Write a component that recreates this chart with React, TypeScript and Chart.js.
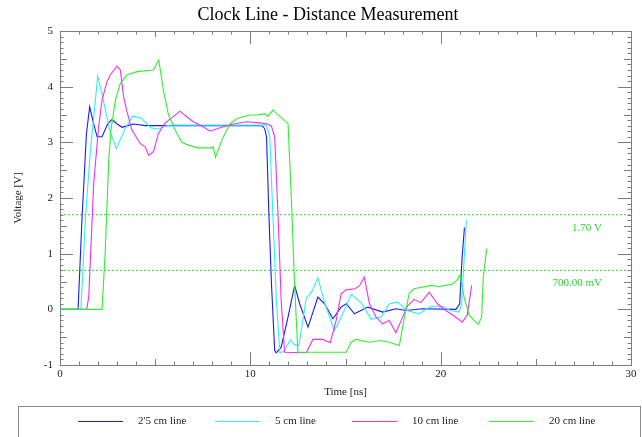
import React, { useEffect, useRef } from "react";
import { Chart, registerables } from "chart.js";

Chart.register(...registerables);

const FONT = '"Liberation Serif", "Times New Roman", serif';

const chartTitle = "Clock Line - Distance Measurement";
const xAxisTitle = "Time [ns]";
const yAxisTitle = "Voltage [V]";
const xMin = 0;
const xMax = 30;
const xStep = 10;
const yMin = -1;
const yMax = 5;
const yStep = 1;

const seriesNames = ["2'5 cm line", "5 cm line", "10 cm line", "20 cm line"];
const seriesColors = ["#1c1cf0", "#30f0f0", "#f030f0", "#30ee30"];

// 2'5 cm line
const line25Time = [0, 0.95, 1.16, 1.39, 1.56, 1.72, 1.95, 2.21, 2.5, 2.73, 3.0, 3.26, 3.55, 3.86, 4.48, 6, 8, 10, 10.6, 10.75, 10.85, 10.98, 11.11, 11.28, 11.36, 11.62, 11.98, 12.33, 12.59, 13.03, 13.55, 13.9, 14.34, 14.77, 15.04, 15.47, 16.17, 16.95, 17.65, 18.18, 19.05, 20.8, 21.0, 21.12, 21.25];
const line25Volt = [0, 0, 1.66, 3.16, 3.64, 3.4, 3.1, 3.1, 3.33, 3.41, 3.33, 3.27, 3.3, 3.33, 3.3, 3.3, 3.3, 3.3, 3.3, 3.25, 3.1, 1.66, 0.46, -0.74, -0.78, -0.68, -0.14, 0.43, 0.1, -0.32, 0.22, 0.1, -0.17, 0.04, 0.1, -0.08, 0.04, -0.05, 0.01, -0.02, 0.01, 0, 0.1, 0.9, 1.47];

// 5 cm line
const line5Time = [0, 1.1, 1.34, 1.6, 1.86, 1.98, 2.2, 2.61, 2.96, 3.43, 3.82, 4.25, 4.39, 4.78, 5.17, 5.52, 5.8, 8, 10.85, 11.02, 11.19, 11.37, 11.55, 11.75, 12.1, 12.3, 12.55, 12.94, 13.25, 13.55, 13.9, 14.42, 14.86, 15.3, 15.82, 16.35, 16.87, 17.3, 17.74, 18.22, 18.87, 19.5, 20.1, 20.5, 20.97, 21.1, 21.23, 21.35];
const line5Volt = [0, 0, 1.66, 2.86, 3.76, 4.19, 3.88, 3.22, 2.89, 3.25, 3.47, 3.44, 3.39, 3.26, 3.24, 3.29, 3.31, 3.31, 3.31, 3.1, 1.66, 0.16, -0.78, -0.76, -0.55, -0.63, -0.65, 0.2, 0.33, 0.57, 0.12, -0.38, -0.08, 0.27, 0.12, -0.18, -0.14, 0.1, 0.13, -0.02, -0.08, 0.06, 0.05, -0.02, -0.05, 0.1, 0.88, 1.6];

// 10 cm line
const line10Time = [0, 1.4, 1.51, 1.77, 2.03, 2.21, 2.47, 2.64, 2.99, 3.17, 3.34, 3.52, 3.78, 4.21, 4.48, 4.65, 4.91, 5.17, 5.52, 5.87, 6.31, 6.55, 7.0, 7.53, 7.88, 8.49, 9.1, 9.8, 10.5, 10.9, 11.11, 11.28, 11.46, 11.62, 11.8, 12.94, 13.29, 13.81, 14.2, 14.51, 14.77, 15.04, 15.5, 15.73, 15.99, 16.26, 16.61, 16.95, 17.3, 17.65, 18.0, 18.26, 18.6, 18.96, 19.4, 19.83, 20.27, 20.71, 21.14, 21.4, 21.63];
const line10Volt = [0, 0, 0.22, 2.26, 3.28, 3.76, 4.09, 4.21, 4.37, 4.3, 3.82, 3.55, 3.22, 2.98, 2.92, 2.77, 2.83, 3.16, 3.35, 3.44, 3.56, 3.49, 3.37, 3.28, 3.2, 3.27, 3.33, 3.37, 3.35, 3.33, 3.29, 3.1, 1.66, 0.16, -0.77, -0.78, -0.54, -0.54, -0.6, -0.2, 0.28, 0.35, 0.37, 0.42, 0.58, 0.1, -0.14, -0.26, -0.2, -0.42, -0.14, 0.06, 0.18, 0.12, 0.31, 0.1, -0.02, -0.12, -0.23, -0.1, 0.43];

// 20 cm line
const line20Time = [0, 2.21, 2.38, 2.56, 2.68, 2.91, 3.17, 3.52, 4.04, 4.91, 5.19, 5.43, 5.7, 6.05, 6.4, 6.74, 7.27, 7.97, 8.05, 8.17, 8.5, 8.93, 9.3, 9.97, 10.32, 10.76, 10.93, 11.19, 11.37, 11.98, 12.16, 12.33, 12.5, 15.04, 15.3, 15.55, 16.26, 16.78, 17.3, 17.83, 18.09, 18.35, 18.6, 19.5, 19.9, 20.6, 20.85, 21.02, 21.23, 21.49, 21.75, 21.98, 22.15, 22.24, 22.42];
const line20Volt = [0, 0, 1.06, 2.68, 3.22, 3.76, 4.06, 4.21, 4.27, 4.3, 4.48, 3.94, 3.49, 3.22, 3.0, 2.95, 2.9, 2.9, 2.92, 2.73, 3.04, 3.33, 3.43, 3.49, 3.49, 3.51, 3.47, 3.58, 3.52, 3.34, 1.96, 0.4, -0.77, -0.77, -0.59, -0.54, -0.59, -0.56, -0.59, -0.65, -0.15, 0.29, 0.37, 0.43, 0.41, 0.45, 0.52, 0.62, 0.22, -0.1, -0.2, -0.27, -0.14, 0.58, 1.09];

const seriesTimes = [line25Time, line5Time, line10Time, line20Time];
const seriesVolts = [line25Volt, line5Volt, line10Volt, line20Volt];

const thresholdVolts = [1.7, 0.7];
const thresholdLabels = ["1.70 V", "700.00 mV"];
const thresholdColor = "#2bd42b";

const framePlugin = {
  id: "frameTicks",
  beforeDatasetsDraw(chart: any) {
    const { ctx, chartArea, scales } = chart;
    const { left, right, top, bottom } = chartArea;
    const xs = scales.x;
    const ys = scales.y;
    ctx.save();
    ctx.strokeStyle = "#7c7c7c";
    ctx.lineWidth = 1;
    ctx.beginPath();
    for (let i = xMin; i <= xMax; i++) {
      const px = Math.round(xs.getPixelForValue(i)) + 0.5;
      const len = i % 10 === 0 ? 13 : i % 5 === 0 ? 6 : 3.5;
      ctx.moveTo(px, top);
      ctx.lineTo(px, top + len);
      ctx.moveTo(px, bottom);
      ctx.lineTo(px, bottom - len);
    }
    const steps = Math.round((yMax - yMin) * 10);
    for (let k = 0; k <= steps; k++) {
      const v = yMin + k / 10;
      const py = Math.round(ys.getPixelForValue(v)) + 0.5;
      const len = k % 10 === 0 ? 13 : k % 5 === 0 ? 7 : 3.5;
      ctx.moveTo(left, py);
      ctx.lineTo(left + len, py);
      ctx.moveTo(right, py);
      ctx.lineTo(right - len, py);
    }
    ctx.stroke();
    ctx.strokeRect(Math.round(left) + 0.5, Math.round(top) + 0.5, Math.round(right - left), Math.round(bottom - top));
    ctx.restore();
  },
  afterDatasetsDraw(chart: any) {
    const { ctx, chartArea, scales } = chart;
    ctx.save();
    ctx.font = `11px ${FONT}`;
    ctx.fillStyle = thresholdColor;
    ctx.textAlign = "right";
    ctx.textBaseline = "middle";
    thresholdVolts.forEach((v, i) => {
      const py = scales.y.getPixelForValue(v);
      ctx.fillText(thresholdLabels[i], chartArea.right - 29, py + 13);
    });
    ctx.restore();
  },
  afterDraw(chart: any) {
    const { ctx, width } = chart;
    ctx.save();
    // title
    ctx.font = `18px ${FONT}`;
    ctx.fillStyle = "#000";
    ctx.textAlign = "center";
    ctx.textBaseline = "middle";
    ctx.fillText(chartTitle, 328, 15);
    // legend
    ctx.strokeStyle = "#8a8a8a";
    ctx.lineWidth = 1;
    ctx.strokeRect(18.5, 406.5, width - 20, 60);
    ctx.font = `11px ${FONT}`;
    ctx.textBaseline = "middle";
    ctx.textAlign = "left";
    const y = 421.5;
    seriesNames.forEach((name, i) => {
      const x0 = 78 + i * 137;
      ctx.strokeStyle = seriesColors[i];
      ctx.beginPath();
      ctx.moveTo(x0, y);
      ctx.lineTo(x0 + 45, y);
      ctx.stroke();
      ctx.fillStyle = "#222";
      ctx.fillText(name, x0 + 60, y);
    });
    ctx.restore();
  },
};

export default function App() {
  const canvasRef = useRef<HTMLCanvasElement | null>(null);

  useEffect(() => {
    document.body.style.margin = "0";
    const canvas = canvasRef.current;
    if (!canvas) return;
    const datasets: any[] = seriesNames.map((name, i) => ({
      label: name,
      data: seriesTimes[i].map((t, j) => ({ x: t, y: seriesVolts[i][j] })),
      borderColor: seriesColors[i],
      backgroundColor: seriesColors[i],
      borderWidth: 1.1,
      pointRadius: 0,
      tension: 0,
      fill: false,
      order: 10 - i,
    }));
    thresholdVolts.forEach((v) => {
      datasets.push({
        label: "threshold",
        data: [
          { x: xMin, y: v },
          { x: xMax, y: v },
        ],
        borderColor: thresholdColor,
        borderWidth: 1,
        borderDash: [2, 2],
        pointRadius: 0,
        fill: false,
        order: 20,
      });
    });

    const chart = new Chart(canvas, {
      type: "line",
      data: { datasets },
      options: {
        responsive: false,
        animation: false,
        devicePixelRatio: 1,
        layout: { padding: { left: 0, right: 11, top: 31, bottom: 32 } },
        plugins: {
          legend: { display: false },
          tooltip: { enabled: false },
          title: { display: false },
        },
        scales: {
          x: {
            type: "linear",
            min: xMin,
            max: xMax,
            border: { display: false },
            grid: { display: false, drawTicks: false },
            ticks: {
              stepSize: xStep,
              padding: 3,
              color: "#222",
              font: { family: FONT, size: 11 },
              maxRotation: 0,
            },
            title: {
              display: true,
              text: xAxisTitle,
              color: "#222",
              font: { family: FONT, size: 11 },
              padding: { top: 0, bottom: 6.4 },
            },
            afterFit: (scale: any) => {
              scale.height = 40;
            },
          },
          y: {
            type: "linear",
            min: yMin,
            max: yMax,
            border: { display: false },
            grid: { display: false, drawTicks: false },
            ticks: {
              stepSize: yStep,
              padding: 7,
              color: "#222",
              font: { family: FONT, size: 11 },
            },
            title: {
              display: true,
              text: yAxisTitle,
              color: "#222",
              font: { family: FONT, size: 11 },
              padding: { top: 11.4, bottom: 0 },
            },
            afterFit: (scale: any) => {
              scale.width = 60;
            },
          },
        },
      },
      plugins: [framePlugin],
    });
    return () => chart.destroy();
  }, []);

  return (
    <div style={{ width: 642, height: 437, overflow: "hidden", background: "#fff" }}>
      <canvas ref={canvasRef} width={642} height={437} style={{ display: "block" }} />
    </div>
  );
}
